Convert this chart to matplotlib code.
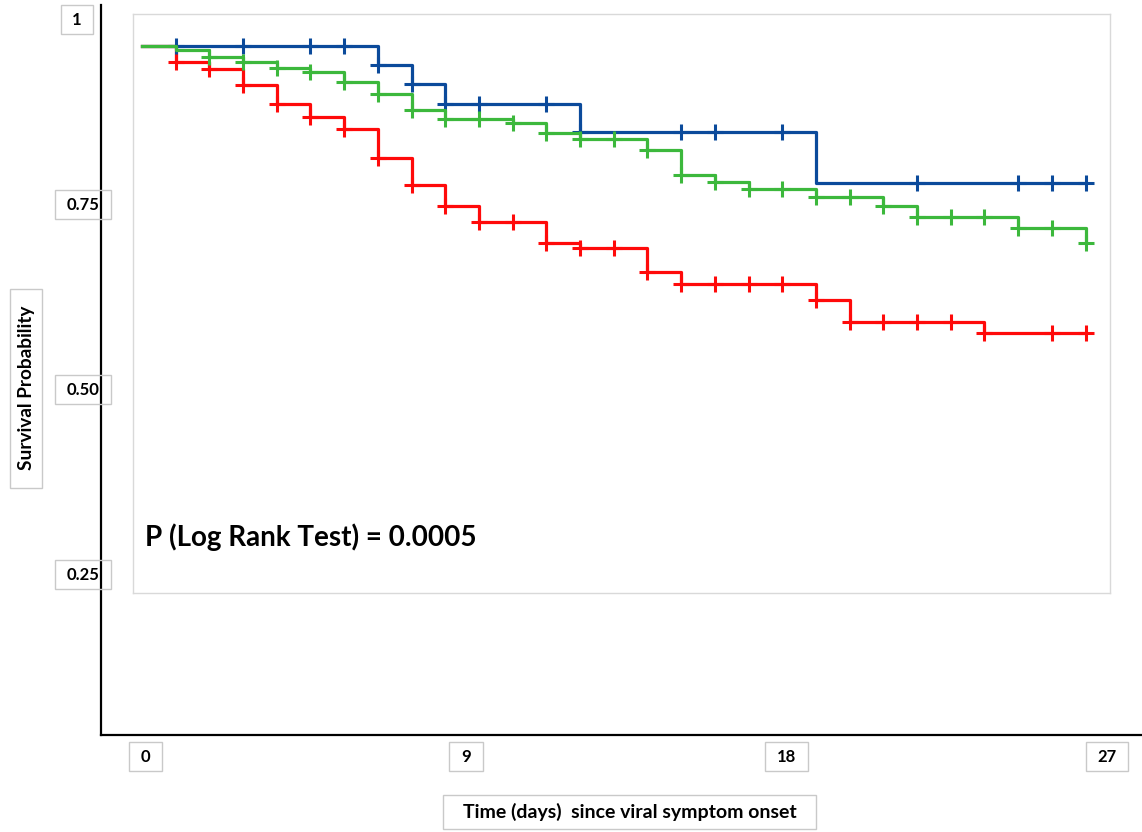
import matplotlib
matplotlib.use("Agg")
import matplotlib.pyplot as plt
import numpy as np

plt.rcParams.update({
    'font.family': ['Lato', 'DejaVu Sans'],
    'font.weight': 'bold',
})

# Kaplan-Meier estimates (day, survival)
blue_t = [0, 7, 8, 9, 13, 20, 28]
blue_s = [0.964, 0.939, 0.913, 0.886, 0.848, 0.779, 0.779]
blue_cens = [1, 3, 5, 6, 7, 8, 9, 10, 12, 13, 16, 17, 19, 23, 26, 27, 28]

red_t = [0, 1, 2, 3, 4, 5, 6, 7, 8, 9, 10, 12, 13, 15, 16, 20, 21, 25, 28]
red_s = [0.964, 0.943, 0.933, 0.912, 0.886, 0.869, 0.852, 0.813, 0.777, 0.748,
         0.727, 0.698, 0.692, 0.659, 0.643, 0.621, 0.592, 0.577, 0.577]
red_cens = [1, 2, 3, 4, 5, 6, 7, 8, 9, 10, 11, 12, 13, 14, 15, 16, 17, 18, 19,
            20, 21, 22, 23, 24, 25, 27, 28]

green_t = [0, 1, 2, 3, 4, 5, 6, 7, 8, 9, 11, 12, 13, 15, 16, 17, 18, 20, 22, 23, 26, 28]
green_s = [0.965, 0.959, 0.950, 0.943, 0.935, 0.929, 0.916, 0.900, 0.878, 0.866, 0.861,
           0.847, 0.839, 0.824, 0.790, 0.781, 0.771, 0.761, 0.748, 0.733, 0.719, 0.698]
green_cens = list(range(2, 29))

y_ticks = [1, 0.75, 0.50, 0.25]
y_ticklabels = ['1', '0.75', '0.50', '0.25']
x_ticks = [0, 9, 18, 27]
x_ticklabels = ['0', '9', '18', '27']

COLORS = {'blue': '#0b4a9b', 'red': '#ff0a0a', 'green': '#3cb83c'}
BOX_EC = '#c9c9c9'

fig = plt.figure(figsize=(11.42, 8.32), dpi=100)

# outer frame with the boxed tick labels
ax = fig.add_axes([0.0884, 0.1166, 0.9116, 0.8774])
ax.set_xlim(-1.25, 27.98)
ax.set_ylim(0.0334, 1.020)
ax.set_xticks([])
ax.set_yticks([])
for s in ['top', 'right']:
    ax.spines[s].set_visible(False)
for s in ['left', 'bottom']:
    ax.spines[s].set_linewidth(1.6)
    ax.spines[s].set_color('black')

tick_box = dict(boxstyle='square,pad=0.7', fc='none', ec=BOX_EC, lw=1.0, mutation_aspect=0.55)
for val, lab in zip(y_ticks, y_ticklabels):
    xpos = -0.023 if lab == '1' else -0.0173
    ax.text(xpos, val, lab, transform=ax.get_yaxis_transform(), ha='center', va='center',
            fontsize=12, fontweight='bold', bbox=tick_box, clip_on=False)
for val, lab in zip(x_ticks, x_ticklabels):
    ax.text(val, -0.030, lab, transform=ax.get_xaxis_transform(), ha='center', va='center',
            fontsize=12, fontweight='bold', bbox=tick_box, clip_on=False)

ax.text(-0.0716, 0.475, 'Survival Probability', transform=ax.transAxes, rotation=90,
        ha='center', va='center', fontsize=13.7, fontweight='bold', clip_on=False,
        bbox=dict(boxstyle='square,pad=0.92', fc='white', ec=BOX_EC, lw=1.0, mutation_aspect=0.43))
ax.text(0.508, -0.1055, 'Time (days)  since viral symptom onset', transform=ax.transAxes,
        ha='center', va='center', fontsize=14, fontweight='bold', clip_on=False,
        bbox=dict(boxstyle='square,pad=1.0', fc='white', ec=BOX_EC, lw=1.0, mutation_aspect=0.39))

# inner panel holding the survival curves
ax_in = fig.add_axes([0.11646, 0.28726, 0.8555, 0.6959])
ax_in.set_xlim(-0.267, 28.724)
ax_in.set_ylim(0.2253, 1.0078)
ax_in.set_xticks([])
ax_in.set_yticks([])
for s in ax_in.spines.values():
    s.set_color('#d9d9d9')
    s.set_linewidth(1.0)


def km(axis, t, s, cens, color):
    axis.step(t, s, where='post', color=color, lw=2.3, solid_joinstyle='round')
    t = np.asarray(t)
    s = np.asarray(s)
    idx = np.searchsorted(t, cens, side='right') - 1
    axis.plot(cens, s[idx], ls='none', marker='+', ms=11, mew=2.2, color=color)


km(ax_in, red_t, red_s, red_cens, COLORS['red'])
km(ax_in, blue_t, blue_s, blue_cens, COLORS['blue'])
km(ax_in, green_t, green_s, green_cens, COLORS['green'])

ax_in.text(0.0123, 0.0967, 'P (Log Rank Test) = 0.0005', transform=ax_in.transAxes,
           ha='left', va='center', fontsize=20, fontweight='bold')

fig.savefig('out.png', dpi=100)
